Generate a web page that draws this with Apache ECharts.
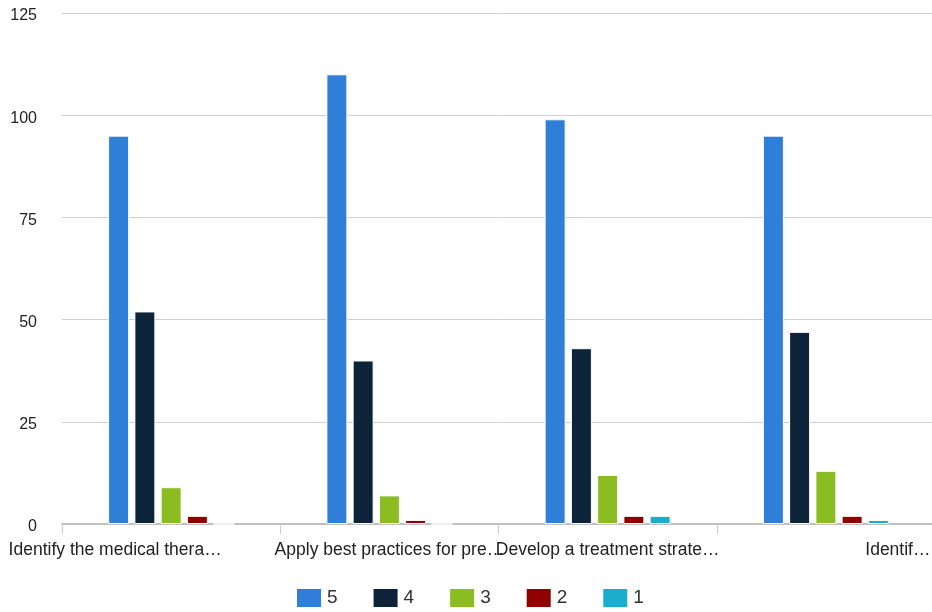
<!DOCTYPE html>
<html>
<head>
<meta charset="utf-8">
<script src="https://cdn.jsdelivr.net/npm/echarts@6/dist/echarts.min.js"></script>
<style>
html,body{margin:0;padding:0;background:#fff;}
#chart{width:932px;height:612px;}
</style>
</head>
<body>
<div id="chart"></div>
<script>
const categories = [
  "Identify the medical thera…",
  "Apply best practices for pre…",
  "Develop a treatment strate…",
  "Identif…"
];
const seriesNames = ["5", "4", "3", "2", "1"];
const values5 = [95, 110, 99, 95];
const values4 = [52, 40, 43, 47];
const values3 = [9, 7, 12, 13];
const values2 = [2, 1, 2, 2];
const values1 = [0, 0, 2, 1];
const yTicks = [0, 25, 50, 75, 100, 125];

const colors = ["#2f7ed8", "#0d233a", "#8bbc21", "#910000", "#1aadce"];
const allValues = [values5, values4, values3, values2, values1];
const font = "Liberation Sans, Arial, sans-serif";

const chart = echarts.init(document.getElementById("chart"));
chart.setOption({
  animation: false,
  color: colors,
  grid: { left: 62, width: 873, top: 13, bottom: 88, containLabel: false, outerBoundsMode: "none" },
  legend: {
    bottom: 0,
    left: 290,
    padding: [5, 5, 3, 5],
    itemWidth: 26,
    itemHeight: 20,
    itemGap: 34,
    icon: "rect",
    textStyle: { fontFamily: font, fontSize: 19, color: "#333" },
    data: seriesNames
  },
  xAxis: {
    type: "category",
    data: categories,
    axisLine: { lineStyle: { color: "#c0c0c0", width: 2 } },
    axisTick: { show: true, length: 10, lineStyle: { color: "#c0d0e0", width: 1 } },
    axisLabel: {
      interval: 0,
      margin: 17,
      fontFamily: font,
      fontSize: 17.5,
      color: "#222",
      formatter: function (v, i) { return "{l" + i + "|" + v + "}"; },
      rich: {
        l0: { fontFamily: font, fontSize: 17.5, color: "#222", padding: [0, 112, 0, 0] },
        l1: { fontFamily: font, fontSize: 17.5, color: "#222" },
        l2: { fontFamily: font, fontSize: 17.5, color: "#222" },
        l3: { fontFamily: font, fontSize: 17.5, color: "#222", padding: [0, 0, 0, 144] }
      }
    },
    splitLine: { show: false }
  },
  yAxis: {
    type: "value",
    min: yTicks[0],
    max: yTicks[yTicks.length - 1],
    interval: yTicks[1] - yTicks[0],
    axisLine: { show: false },
    axisTick: { show: false },
    axisLabel: {
      margin: 25,
      fontFamily: font,
      fontSize: 16,
      color: "#222",
      formatter: function (v) { return "{y|" + v + "}"; },
      rich: { y: { fontFamily: font, fontSize: 16, color: "#222", padding: [6, 0, 0, 0] } }
    },
    splitLine: { lineStyle: { color: "#d0d0d0", width: 1 } }
  },
  series: seriesNames.map(function (name, k) {
    return {
      name: name,
      type: "bar",
      data: allValues[k],
      barWidth: 21,
      barGap: "25%",
      itemStyle: { borderColor: "#ffffff", borderWidth: 1 }
    };
  })
});
</script>
</body>
</html>
